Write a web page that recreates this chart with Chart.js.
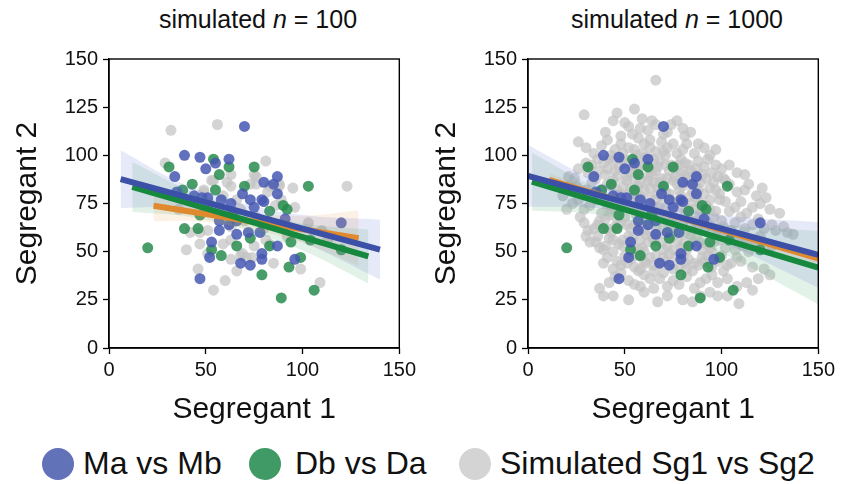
<!DOCTYPE html>
<html>
<head>
<meta charset="utf-8">
<script src="https://cdn.jsdelivr.net/npm/chart.js@4.4.1/dist/chart.umd.min.js"></script>
<style>
  body { margin: 0; background: #fff; width: 850px; height: 484px; overflow: hidden; position: relative;
         font-family: 'Liberation Sans', Arial, sans-serif; color: #111; }
  .box { position: absolute; top: 0; width: 420px; height: 430px; }
  .title { position: absolute; top: 5px; font-size: 25px; text-align: center; }
  .dot { position: absolute; top: 448px; width: 32px; height: 32px; border-radius: 50%; }
  .lab { position: absolute; top: 445px; font-size: 32px; line-height: 36px; white-space: nowrap; }
</style>
</head>
<body>
<div class="title" style="left:109px;width:298px">simulated <i>n</i> = 100</div>
<div class="title" style="left:528px;width:298px">simulated <i>n</i> = 1000</div>
<div class="box" style="left:0"><canvas id="left"></canvas></div>
<div class="box" style="left:419px"><canvas id="right"></canvas></div>

<div class="dot" style="left:42px;background:#6272b8"></div>
<div class="lab" style="left:83px">Ma vs Mb</div>
<div class="dot" style="left:249px;background:#3f9a66"></div>
<div class="lab" style="left:295px">Db vs Da</div>
<div class="dot" style="left:459px;background:#d4d4d4"></div>
<div class="lab" style="left:500px">Simulated Sg1 vs Sg2</div>

<script>
// observed pairs (Segregant 1, Segregant 2), same in both panels
const maMb = [[70,115],[39,100],[47,99],[50,93],[55,96],[62,98],[34,89],[80,86],[85,85],[87,89],[87,80],[73,77],
  [79,77],[69,80],[75,73],[80,76],[58,77],[51,78],[48,78],[35,81],[91,67],[120,65],[57,66],[62,64],[66,59],[72,60],
  [78,60],[57,61],[53,55],[87,53],[52,47],[79,49],[79,46],[68,44],[73,43],[96,46],[47,36],[66,66],[44,79],[63,75]];
const dbDa = [[31,94],[54,98],[57,90],[62,94],[75,94],[43,85],[38,82],[55,82],[70,84],[103,84],[90,74],[92,72],
  [83,71],[47,69],[39,62],[46,62],[20,52],[66,53],[53,51],[58,48],[83,53],[94,55],[104,56],[120,51],[99,47],[93,42],
  [79,38],[89,26],[106,30],[73,57],[64,70]];

// simulated pairs
const sim100 = [[32,113],[56,116],[81,97],[123,84],[29,96],[75,90],[76,85],[82,81],[88,85],[86,74],[53,87],[61,86],
  [63,90],[49,82],[59,79],[40,51],[47,54],[42,60],[47,60],[46,41],[60,35],[54,30],[59,54],[63,46],[66,40],[51,49],
  [85,44],[99,41],[109,34],[71,47],[68,48],[83,54],[75,53],[49,81],[54,87],[76,89],[88,84],[74,47],[69,49],[63,56],
  [81,56],[76,68],[68,72],[61,70],[52,75],[44,76],[63,84],[66,77],[73,85],[83,84],[89,77],[96,73],[103,65],[110,61],
  [113,56],[63,63],[51,61],[70,66],[57,71],[80,62],[92,58],[36,72],[95,83]];
const sim1000 = [[66,139],[29,121],[46,122],[44,118],[59,119],[64,118],[55,124],[52,115],[80,114],[40,112],[62,113],
  [70,111],[81,110],[48,110],[57,109],[74,116],[26,107],[82,106],[97,103],[38,105],[45,103],[52,104],[60,106],[66,102],
  [72,104],[77,101],[86,101],[91,104],[34,101],[56,100],[93,98],[97,95],[101,88],[108,91],[21,89],[30,96],[36,92],
  [42,98],[47,94],[53,91],[58,96],[63,93],[68,97],[73,92],[78,95],[84,92],[88,97],[90,90],[40,90],[62,89],[76,89],
  [31,91],[18,79],[25,84],[33,86],[38,82],[44,87],[49,84],[55,88],[60,82],[65,86],[70,83],[75,87],[80,84],[85,81],
  [89,86],[94,83],[99,80],[104,85],[112,82],[118,79],[28,80],[52,80],[67,80],[92,88],[23,75],[29,72],[35,77],[41,74],
  [46,71],[50,78],[56,74],[61,71],[66,77],[71,73],[77,76],[82,72],[87,78],[92,74],[97,71],[102,76],[107,73],[113,70],
  [120,75],[38,70],[125,72],[58,79],[29,65],[34,62],[40,67],[45,63],[50,68],[55,64],[60,61],[65,66],[70,62],[75,68],
  [80,64],[85,61],[90,67],[95,63],[100,66],[105,61],[110,68],[128,61],[134,60],[137,59],[116,64],[122,62],[43,60],
  [63,69],[88,63],[32,55],[37,52],[42,57],[47,54],[52,58],[57,51],[62,55],[67,59],[72,53],[77,56],[82,51],[87,57],
  [92,54],[97,58],[102,52],[109,58],[111,53],[114,50],[118,55],[36,58],[58,56],[75,51],[95,50],[39,44],[46,45],
  [50,48],[55,42],[58,41],[63,47],[68,44],[73,49],[78,42],[83,46],[88,43],[93,48],[98,45],[101,40],[105,44],[108,47],
  [122,41],[65,40],[85,40],[37,31],[52,35],[68,36],[78,33],[86,31],[92,36],[113,34],[119,36],[125,38],[60,38],[72,32],
  [45,37],[98,34],[39,27],[72,27],[98,27],[89,27],[109,23],[80,25],[60,29],[43,100],[49,98],[54,95],[61,99],[67,94],
  [71,100],[79,98],[83,95],[41,93],[46,89],[51,87],[57,92],[64,90],[69,88],[74,95],[81,90],[87,93],[43,84],[48,80],
  [53,83],[58,86],[63,83],[68,86],[73,80],[78,82],[83,86],[88,82],[96,86],[39,78],[44,76],[49,73],[54,77],[59,75],
  [64,73],[69,79],[74,71],[79,79],[84,75],[89,71],[94,77],[37,66],[42,69],[48,65],[53,62],[58,67],[63,64],[68,67],
  [73,65],[78,61],[83,67],[89,69],[93,65],[40,53],[44,50],[49,56],[54,53],[60,50],[65,56],[70,51],[76,59],[80,54],
  [85,55],[90,51],[96,55],[48,43],[53,46],[61,44],[66,48],[71,45],[76,47],[81,44],[91,45],
  [50,117],[58,114],[66,116],[72,112],[77,118],[84,112],[54,111],[63,108],[30,104],[41,108],[48,106],[55,103],
  [63,104],[69,107],[75,106],[80,103],[88,106],[94,100],[59,101],[36,98],[49,101],[70,102],[26,93],[33,95],[39,96],
  [45,92],[50,96],[55,93],[60,95],[66,92],[71,95],[76,93],[81,96],[86,90],[91,94],[95,91],[100,93],[104,95],[112,90],
  [44,97],[65,98],[79,91],[21,84],[30,82],[35,88],[41,85],[46,82],[51,89],[57,84],[62,87],[67,83],[72,88],[77,85],
  [82,88],[87,84],[91,80],[97,82],[102,87],[108,81],[114,85],[121,83],[24,88],[55,80],[71,81],[98,89],[20,72],[26,77],
  [32,74],[37,79],[43,72],[48,76],[53,73],[58,71],[63,78],[68,74],[73,77],[78,73],[84,79],[89,75],[94,72],[99,77],
  [104,71],[110,76],[116,73],[123,78],[130,70],[47,79],[66,71],[86,72],[27,68],[31,61],[36,64],[41,62],[46,67],[51,64],
  [56,69],[61,66],[66,63],[71,68],[76,64],[81,69],[86,66],[91,62],[96,68],[101,63],[107,65],[112,62],[119,67],[126,64],
  [132,63],[57,62],[74,61],[99,60],[30,58],[35,55],[39,51],[44,56],[49,53],[54,57],[59,52],[64,58],[69,55],[74,57],
  [79,52],[84,58],[89,55],[94,52],[99,56],[104,58],[107,51],[113,55],[120,58],[126,53],[61,59],[81,59],[41,47],[44,41],
  [51,44],[56,48],[60,45],[65,43],[70,47],[75,41],[80,48],[86,44],[90,47],[95,42],[100,48],[103,43],[110,45],[116,42],
  [57,40],[82,41],[42,34],[48,39],[55,33],[63,36],[70,39],[75,35],[82,37],[89,34],[95,38],[103,36],[108,32],[116,30],
  [65,31],[58,32],[44,27],[52,25],[67,24],[85,24],[94,29],[103,27]];

// regression fits with confidence bands
const leftMaX = [6, 35, 65, 100, 140];
const leftMaFit = [87.7, 79.7, 71.6, 62.0, 51.1];
const leftMaHi = [102.7, 86.7, 76.1, 69.0, 66.6];
const leftMaLo = [72.7, 72.7, 67.1, 55.0, 35.6];
const leftDbX = [12, 40, 65, 100, 134];
const leftDbFit = [83.6, 75.4, 68.0, 57.6, 47.5];
const leftDbHi = [96.6, 82.4, 73.0, 64.6, 61.5];
const leftDbLo = [70.6, 68.4, 63.0, 50.6, 33.5];
const leftSimX = [23, 45, 70, 100, 129];
const leftSimFit = [73.8, 70.3, 66.3, 61.6, 57.0];
const leftSimHi = [81.8, 74.8, 70.3, 68.6, 71.5];
const leftSimLo = [65.8, 65.8, 62.3, 54.6, 42.5];

const rightMaX = [0, 35, 65, 100, 150];
const rightMaFit = [89.3, 79.7, 71.6, 62.0, 48.3];
const rightMaHi = [105.3, 86.7, 76.1, 69.0, 65.3];
const rightMaLo = [73.3, 72.7, 67.1, 55.0, 31.3];
const rightDbX = [2, 35, 65, 100, 150];
const rightDbFit = [86.4, 76.4, 67.4, 56.8, 41.7];
const rightDbHi = [101.4, 83.4, 72.4, 64.3, 60.7];
const rightDbLo = [71.4, 69.4, 62.4, 49.3, 22.7];
const rightSimX = [11, 65, 150];
const rightSimFit = [87.6, 71.3, 46.0];
const rightSimHi = [90.6, 72.3, 49.5];
const rightSimLo = [84.6, 70.3, 42.5];

const xTicks = [0, 50, 100, 150];
const yTicks = [0, 25, 50, 75, 100, 125, 150];

const BLUE = '#3c50a8', GREEN = '#16893f', ORANGE = '#e08a30';

const pts = a => a.map(p => ({x: p[0], y: p[1]}));
const xy = (xs, ys) => xs.map((x, i) => ({x: x, y: ys[i]}));

function scatterSet(a, color, order) {
  return {type: 'scatter', data: pts(a), backgroundColor: color, borderWidth: 0,
          pointRadius: 5.5, pointHoverRadius: 5.5, order: order};
}
function fitLine(xs, ys, color, order, w) {
  return {type: 'line', data: xy(xs, ys), borderColor: color, borderWidth: w || 6,
          pointRadius: 0, fill: false, order: order};
}
function band(xs, lo, hi, color, order) {
  return [
    {type: 'line', data: xy(xs, lo), borderWidth: 0, pointRadius: 0, fill: false, tension: 0.35, order: order},
    {type: 'line', data: xy(xs, hi), borderWidth: 0, pointRadius: 0, fill: '-1', backgroundColor: color,
     tension: 0.35, order: order}
  ];
}

const frame = {
  id: 'frame',
  afterDatasetsDraw(chart) {
    const a = chart.chartArea, c = chart.ctx;
    c.save();
    c.strokeStyle = '#000';
    c.lineWidth = 1.4;
    c.strokeRect(a.left, a.top, a.right - a.left, a.bottom - a.top);
    c.restore();
  }
};

Chart.defaults.font.family = "'Liberation Sans', Arial, sans-serif";
Chart.defaults.color = '#111';

function makeChart(id, sim, simWidth, f) {
  const datasets = [
    fitLine(f.maX, f.maFit, BLUE, 0),
    fitLine(f.dbX, f.dbFit, GREEN, 1),
    fitLine(f.simX, f.simFit, ORANGE, 2, simWidth),
    ...band(f.maX, f.maLo, f.maHi, 'rgba(90,110,200,0.15)', 3),
    ...band(f.dbX, f.dbLo, f.dbHi, 'rgba(70,170,110,0.15)', 3),
    ...band(f.simX, f.simLo, f.simHi, 'rgba(235,160,80,0.15)', 3),
    scatterSet(maMb, 'rgba(70,88,178,0.85)', 4),
    scatterSet(dbDa, 'rgba(40,140,78,0.85)', 5),
    scatterSet(sim, 'rgba(196,196,196,0.72)', 6)
  ];
  return new Chart(document.getElementById(id), {
    type: 'scatter',
    data: {datasets: datasets},
    options: {
      responsive: true,
      maintainAspectRatio: false,
      animation: false,
      devicePixelRatio: 1,
      layout: {padding: {top: 59, right: 13, left: 0, bottom: 0}},
      plugins: {legend: {display: false}, tooltip: {enabled: false}},
      scales: {
        x: {
          type: 'linear', min: 0, max: 150,
          afterBuildTicks: s => { s.ticks = xTicks.map(v => ({value: v})); },
          afterFit: s => { s.height = 82; },
          ticks: {font: {size: 20}, padding: 4, color: '#111'},
          grid: {drawOnChartArea: false, tickLength: 6, tickWidth: 1.3, tickColor: '#000'},
          border: {color: '#000', width: 1.4},
          title: {display: true, text: 'Segregant 1', font: {size: 30}, padding: {bottom: 2}, color: '#111'}
        },
        y: {
          type: 'linear', min: 0, max: 150,
          afterBuildTicks: s => { s.ticks = yTicks.map(v => ({value: v})); },
          afterFit: s => { s.width = 109; },
          ticks: {font: {size: 20}, padding: 5, color: '#111'},
          grid: {drawOnChartArea: false, tickLength: 6, tickWidth: 1.3, tickColor: '#000'},
          border: {color: '#000', width: 1.4},
          title: {display: true, text: 'Segregant 2', font: {size: 30}, padding: {top: 10}, color: '#111'}
        }
      }
    },
    plugins: [frame]
  });
}

makeChart('left', sim100, 6, {
  maX: leftMaX, maFit: leftMaFit, maHi: leftMaHi, maLo: leftMaLo,
  dbX: leftDbX, dbFit: leftDbFit, dbHi: leftDbHi, dbLo: leftDbLo,
  simX: leftSimX, simFit: leftSimFit, simHi: leftSimHi, simLo: leftSimLo
});
makeChart('right', sim1000, 4.5, {
  maX: rightMaX, maFit: rightMaFit, maHi: rightMaHi, maLo: rightMaLo,
  dbX: rightDbX, dbFit: rightDbFit, dbHi: rightDbHi, dbLo: rightDbLo,
  simX: rightSimX, simFit: rightSimFit, simHi: rightSimHi, simLo: rightSimLo
});
</script>
</body>
</html>
